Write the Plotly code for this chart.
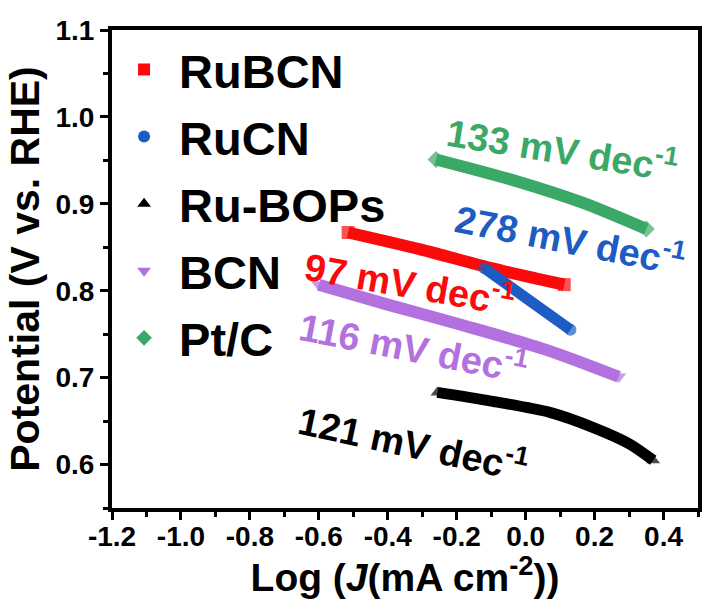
import plotly.graph_objects as go

# Tafel data (log J in mA cm^-2, potential in V vs. RHE)
series_names = ["RuBCN", "RuCN", "Ru-BOPs", "BCN", "Pt/C"]

rubcn_x = [-0.515, -0.30, -0.10, 0.112]
rubcn_y = [0.867, 0.847, 0.826, 0.807]

rucn_x = [-0.12, 0.0, 0.13]
rucn_y = [0.826, 0.792, 0.755]

rubops_x = [-0.256, -0.10, 0.07, 0.20, 0.30, 0.370]
rubops_y = [0.683, 0.673, 0.660, 0.642, 0.624, 0.605]

bcn_x = [-0.60, -0.40, -0.18, 0.06, 0.27]
bcn_y = [0.807, 0.784, 0.760, 0.732, 0.701]

ptc_x = [-0.26, -0.026, 0.167, 0.35]
ptc_y = [0.951, 0.926, 0.901, 0.871]

# Tafel slope labels and where they sit
slope_text = ["97 mV dec<sup>-1</sup>", "278 mV dec<sup>-1</sup>",
              "121 mV dec<sup>-1</sup>", "116 mV dec<sup>-1</sup>",
              "133 mV dec<sup>-1</sup>"]
slope_x = [-0.335, 0.130, -0.325, -0.325, 0.108]
slope_y = [0.810, 0.861, 0.626, 0.736, 0.964]
slope_angle = [10, 11, 12, 11, 9]

# Axis ticks
x_ticks = [-1.2, -1.0, -0.8, -0.6, -0.4, -0.2, 0.0, 0.2, 0.4]
x_ticktext = ["-1.2", "-1.0", "-0.8", "-0.6", "-0.4", "-0.2", "0.0", "0.2", "0.4"]
x_minor = [-1.1, -0.9, -0.7, -0.5, -0.3, -0.1, 0.1, 0.3, 0.5]
y_ticks = [0.6, 0.7, 0.8, 0.9, 1.0, 1.1]
y_ticktext = ["0.6", "0.7", "0.8", "0.9", "1.0", "1.1"]
y_minor = [0.55, 0.65, 0.75, 0.85, 0.95, 1.05]

colors = ["#fa0a0a", "#1d5cc2", "#000000", "#b371df", "#3aa866"]
symbols = ["square", "circle", "triangle-up", "triangle-down", "diamond"]
widths = [12, 11, 11, 12, 12]
xs = [rubcn_x, rucn_x, rubops_x, bcn_x, ptc_x]
ys = [rubcn_y, rucn_y, rubops_y, bcn_y, ptc_y]

FONT = "Arial, Liberation Sans, sans-serif"

fig = go.Figure()

for name, x, y, c, s, w in zip(series_names, xs, ys, colors, symbols, widths):
    # full-size symbols at the ends, smaller ones hidden inside the band
    sizes = [w + 1] + [w - 4] * (len(x) - 2) + [w + 1]
    fig.add_trace(go.Scatter(
        x=x, y=y, mode="lines+markers", showlegend=False,
        line=dict(color=c, width=w, shape="spline", smoothing=0.8),
        marker=dict(symbol=s, size=sizes, color=c, line=dict(width=0)),
        hoverinfo="skip",
    ))

# legend entries show the marker symbol only
for name, c, s in zip(series_names, colors, symbols):
    fig.add_trace(go.Scatter(
        x=[None], y=[None], mode="markers", name=name, legendgroup=name,
        marker=dict(symbol=s, size=12, color=c, line=dict(width=0)),
    ))

for t, x, y, c, a in zip(slope_text, slope_x, slope_y, colors, slope_angle):
    fig.add_annotation(
        x=x, y=y, xref="x", yref="y", text=t, showarrow=False,
        textangle=a, font=dict(family=FONT, size=38, color=c, weight="bold"),
    )

axis_common = dict(
    showline=True, linewidth=4, linecolor="black", mirror=True,
    ticks="outside", ticklen=8, tickwidth=3, tickcolor="black",
    showgrid=False, zeroline=False,
    tickfont=dict(family=FONT, size=28, color="black", weight="bold"),
)

fig.update_xaxes(
    range=[-1.2, 0.5], tickmode="array", tickvals=x_ticks, ticktext=x_ticktext,
    ticklabelstandoff=-8,
    minor=dict(tickmode="array", tickvals=x_minor, ticks="outside",
               ticklen=5, tickwidth=3, tickcolor="black"),
    title=dict(text="Log (<i>J</i>(mA cm<sup>-2</sup>))", standoff=5,
               font=dict(family=FONT, size=39, color="black", weight="bold")),
    **axis_common,
)
fig.update_yaxes(
    range=[0.55, 1.1], tickmode="array", tickvals=y_ticks, ticktext=y_ticktext,
    minor=dict(tickmode="array", tickvals=y_minor, ticks="outside",
               ticklen=5, tickwidth=3, tickcolor="black"),
    title=dict(text="Potential (V vs. RHE)", standoff=4,
               font=dict(family=FONT, size=41, color="black", weight="bold")),
    **axis_common,
)

fig.update_layout(
    width=705, height=599, autosize=False,
    margin=dict(l=112, r=3, t=30, b=91),
    paper_bgcolor="white", plot_bgcolor="white",
    legend=dict(
        x=-0.005, y=0.995, xanchor="left", yanchor="top",
        bgcolor="rgba(0,0,0,0)", itemwidth=60, tracegroupgap=3,
        font=dict(family=FONT, size=47, color="black", weight="bold"),
    ),
)

fig.write_html("out.html")
